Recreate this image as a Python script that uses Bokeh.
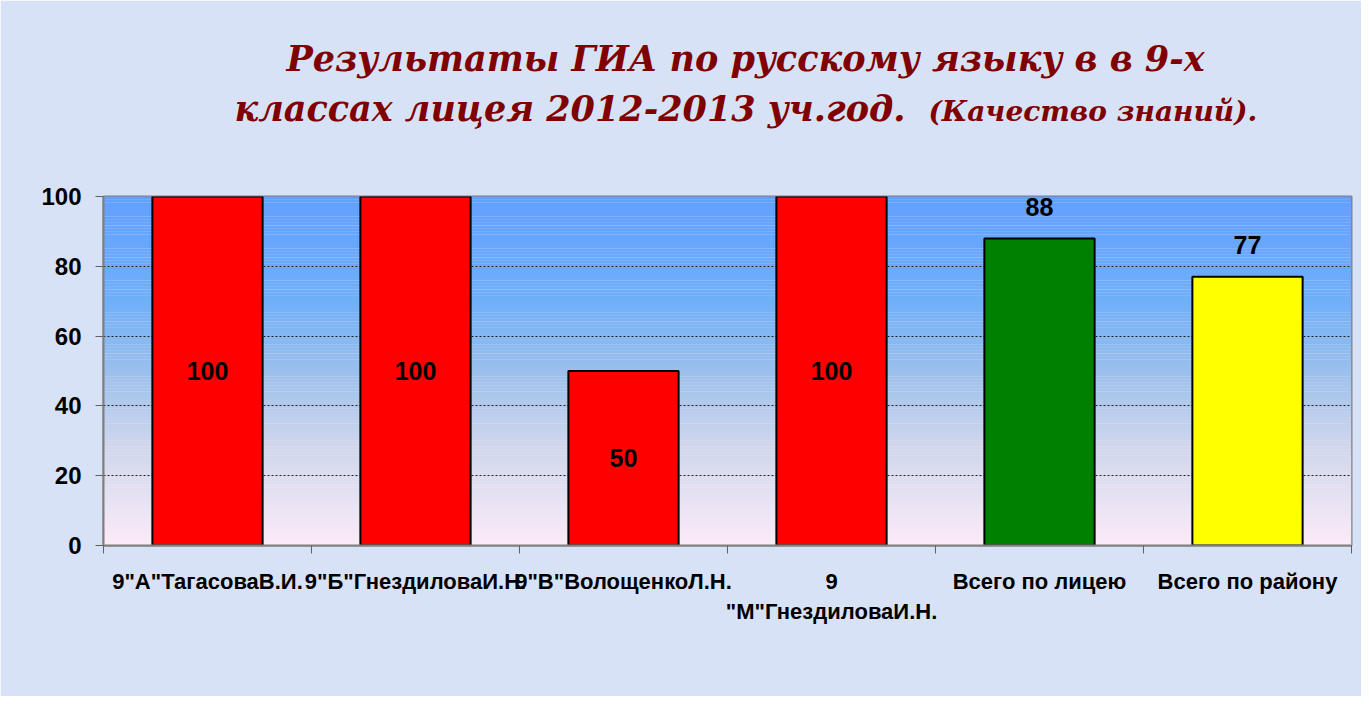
import numpy as np
from bokeh.plotting import figure
from bokeh.models import Label, FixedTicker, ColumnDataSource
from bokeh.core.properties import value
from bokeh.embed import file_html
from bokeh.resources import INLINE

# ---- data ----
categories = ['9"А"ТагасоваВ.И.', '9"Б"ГнездиловаИ.Н.', '9"В"ВолощенкоЛ.Н.',
              '9\n"М"ГнездиловаИ.Н.', 'Всего по лицею', 'Всего по району']
values = [100, 100, 50, 100, 88, 77]
bar_colors = ["#FF0000", "#FF0000", "#FF0000", "#FF0000", "#008000", "#FFFF00"]
label_inside = [True, True, True, True, False, False]
y_ticks = [0, 20, 40, 60, 80, 100]

title_line1 = "Результаты ГИА по русскому языку в в 9-х"
title_line2a = "классах лицея 2012-2013 уч.год."
title_line2b = "(Качество знаний)."

n = len(categories)
xc = np.arange(n) + 0.5

p = figure(frame_width=1248, frame_height=349,
           min_border_left=103, min_border_right=10,
           min_border_top=196, min_border_bottom=151,
           x_range=(0, n), y_range=(0, 100),
           output_backend="svg", toolbar_location=None)

p.border_fill_color = "#D8E2F6"
p.background_fill_color = "#FCEAF6"
p.outline_line_color = "#808080"
p.outline_line_width = 2

# gradient background of the plot area (decoration)
stops_y = [0, 30, 50, 70, 100]
stops_c = np.array([[252, 235, 248], [205, 214, 236], [155, 192, 236],
                    [112, 176, 250], [98, 160, 255]], dtype=float)
edges = np.linspace(0, 100, 121)
mids = (edges[:-1] + edges[1:]) / 2
cols = []
for m in mids:
    r = np.interp(m, stops_y, stops_c[:, 0])
    g = np.interp(m, stops_y, stops_c[:, 1])
    b = np.interp(m, stops_y, stops_c[:, 2])
    cols.append("#%02x%02x%02x" % (int(r), int(g), int(b)))
p.quad(left=0, right=n, bottom=edges[:-1], top=edges[1:] + 0.05,
       fill_color=cols, line_color=None, level="underlay")

# bars
src = ColumnDataSource(dict(x=xc, top=values, color=bar_colors))
p.vbar(x="x", top="top", width=0.53, bottom=0, fill_color="color",
       line_color="black", line_width=2, source=src)

# value labels
ly = [v / 2 if ins else v + 9 for v, ins in zip(values, label_inside)]
p.text(x=xc, y=ly, text=[str(v) for v in values],
       text_font=value("Liberation Sans"), text_font_style="bold",
       text_font_size="25px", text_align="center", text_baseline="middle",
       text_color="black")

# axes
p.xaxis.ticker = FixedTicker(ticks=list(xc), minor_ticks=list(range(n + 1)))
p.xaxis.major_label_overrides = {float(x): c for x, c in zip(xc, categories)}
p.xaxis.major_tick_out = 0
p.xaxis.major_tick_in = 0
p.xaxis.minor_tick_out = 8
p.xaxis.minor_tick_in = 0
p.xaxis.minor_tick_line_color = "#606060"
p.xaxis.axis_line_color = "#808080"
p.xaxis.axis_line_width = 2
p.xaxis.major_label_standoff = 15
p.xaxis.major_label_text_font = "Liberation Sans"
p.xaxis.major_label_text_font_style = "bold"
p.xaxis.major_label_text_font_size = "22px"
p.xaxis.major_label_text_color = "black"

p.yaxis.ticker = FixedTicker(ticks=y_ticks)
p.yaxis.minor_tick_line_color = None
p.yaxis.major_tick_out = 8
p.yaxis.major_tick_in = 0
p.yaxis.major_tick_line_color = "#606060"
p.yaxis.axis_line_color = "#808080"
p.yaxis.axis_line_width = 2
p.yaxis.major_label_standoff = 14
p.yaxis.major_label_text_font = "Liberation Sans"
p.yaxis.major_label_text_font_style = "bold"
p.yaxis.major_label_text_font_size = "24px"
p.yaxis.major_label_text_color = "black"

p.xgrid.grid_line_color = None
p.ygrid.ticker = FixedTicker(ticks=[20, 40, 60, 80])
p.ygrid.grid_line_color = "#202020"
p.ygrid.grid_line_dash = "2 2"
p.ygrid.grid_line_width = 1

# title: labels in the "above" side panels (not clipped to the frame)
tfont = "DejaVu Serif"
tstyle = dict(text_font=tfont, text_font_style="bold italic",
              text_color="#800000", text_baseline="alphabetic",
              x_units="screen", y_units="screen")
p.add_layout(Label(x=642, y=138, text=title_line1, text_font_size="35px",
                   text_align="center", **tstyle), "above")
p.add_layout(Label(x=802, y=47, text=title_line2a, text_font_size="35px",
                   text_align="right", **tstyle), "above")
p.add_layout(Label(x=825, y=3, text=title_line2b, text_font_size="28px",
                   text_align="left", **tstyle), "above")

open("out.html", "w").write(file_html(p, INLINE))
